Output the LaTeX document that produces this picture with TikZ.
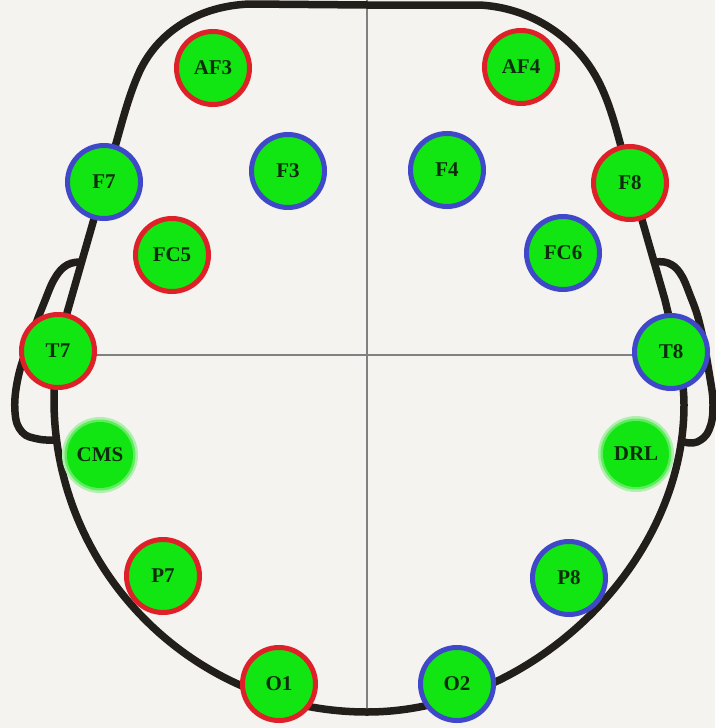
\documentclass[tikz,border=0pt]{standalone}
\usepackage{fontspec}
\setmainfont{Liberation Serif}
\definecolor{bg}{RGB}{244,243,240}
\definecolor{egreen}{RGB}{18,230,18}
\definecolor{ered}{RGB}{222,32,40}
\definecolor{eblue}{RGB}{62,72,200}
\definecolor{etext}{RGB}{14,44,14}
\definecolor{headc}{RGB}{34,30,26}
\definecolor{axisc}{RGB}{128,128,128}
\begin{document}
\begin{tikzpicture}[x=1pt,y=-1pt,
  head/.style={draw=headc,line width=7.5,line join=round,line cap=round},
  axisline/.style={draw=axisc,line width=2.6},
  electrode/.style={circle,minimum size=73,inner sep=0,line width=5,fill=egreen,
    text=etext,font=\fontsize{21}{21}\selectfont\bfseries},
  redel/.style={electrode,draw=ered},
  blueel/.style={electrode,draw=eblue},
  refel/.style={electrode,minimum size=66},
  glowa/.style={fill=egreen!30!bg},
  glowb/.style={fill=egreen!65!bg}]
\fill[bg] (0,0) rectangle (715,728);
\useasboundingbox (0,0) rectangle (715,728);
% cross lines
\draw[axisline] (367,0) -- (367,714);
\draw[axisline] (58,355) -- (671,355);
% ears
\draw[head] plot[smooth,tension=0.7] coordinates {(80,262) (67,265) (55,278) (44,303) (30,340) (18,378) (15,412) (22,432) (38,439) (55,440)};
\draw[head] plot[smooth,tension=0.7] coordinates {(655,262) (668,263) (680,273) (690,295) (700,325) (709,372) (713,405) (709,430) (697,442) (684,442)};
% head outline
\draw[head] (367,5) -- (250,4)
  .. controls (195,6) and (155,35) .. (138,75)
  .. controls (125,105) and (118,140) .. (108,170)
  -- (67,313)
  .. controls (59,340) and (54,372) .. (54,400)
  .. controls (54,572) and (195,712) .. (367,712)
  .. controls (530,712) and (684,565) .. (684,405)
  .. controls (684,370) and (672,330) .. (665,300)
  -- (622,150)
  .. controls (615,125) and (608,95) .. (592,70)
  .. controls (570,35) and (530,8) .. (480,5)
  -- cycle;
% electrodes
\node[redel]  (AF3) at (213,68) {AF3};
\node[redel]  (AF4) at (521,67) {AF4};
\node[blueel] (F7)  at (104,182) {F7};
\node[blueel] (F3)  at (288,171) {F3};
\node[blueel] (F4)  at (447,170) {F4};
\node[redel]  (F8)  at (630,183) {F8};
\node[redel]  (FC5) at (172,255) {FC5};
\node[blueel] (FC6) at (563,253) {FC6};
\node[redel]  (T7)  at (58,351) {T7};
\node[blueel] (T8)  at (671,352) {T8};
\fill[glowa] (100,455) circle (38);
\fill[glowb] (100,455) circle (35.5);
\node[refel]  (CMS) at (100,455) {CMS};
\fill[glowa] (636,454) circle (38);
\fill[glowb] (636,454) circle (35.5);
\node[refel]  (DRL) at (636,454) {DRL};
\node[redel]  (P7)  at (163,576) {P7};
\node[blueel] (P8)  at (569,578) {P8};
\node[redel]  (O1)  at (279,684) {O1};
\node[blueel] (O2)  at (457,684) {O2};
\end{tikzpicture}
\end{document}
